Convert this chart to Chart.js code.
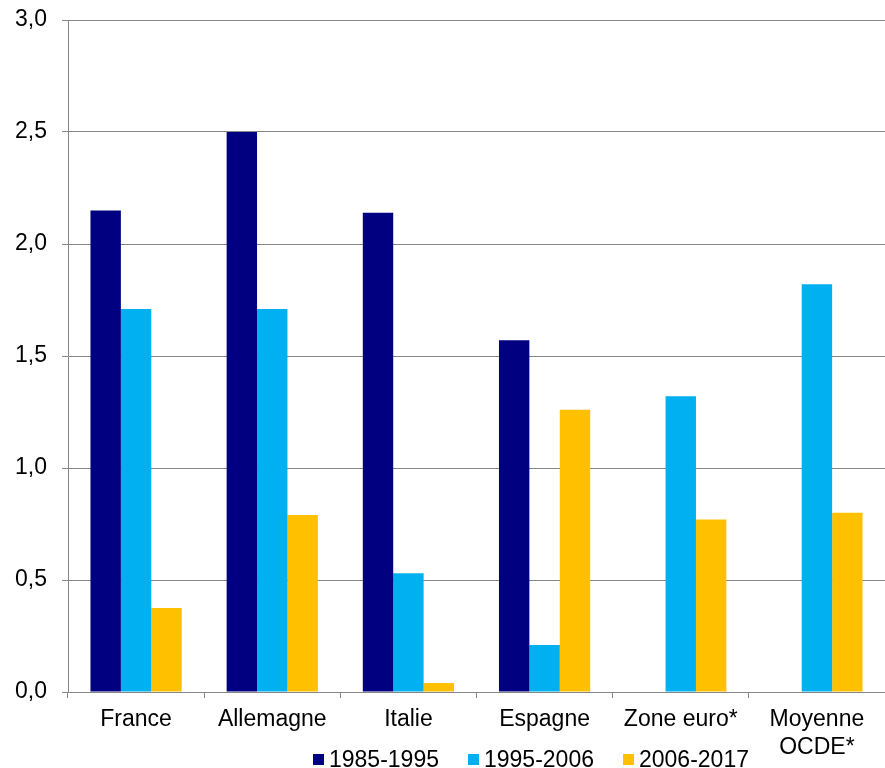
<!DOCTYPE html>
<html>
<head>
<meta charset="utf-8">
<script src="https://cdn.jsdelivr.net/npm/chart.js@4"></script>
<style>
  html, body { margin: 0; padding: 0; background: #fff; }
  #wrap { position: relative; width: 885px; height: 768px; }
  #legend {
    position: absolute; left: 313px; top: 746px;
    display: flex; align-items: center;
    font-family: "Liberation Sans", Arial, sans-serif; font-size: 23px; color: #000;
    line-height: 26px;
  }
  #legend .item { display: flex; align-items: center; margin-right: 29px; }
  #legend .box { width: 11px; height: 11px; margin-right: 5px; }
</style>
</head>
<body>
<div id="wrap">
  <canvas id="chart"></canvas>
  <div id="legend"></div>
</div>
<script>
const categories = ['France', 'Allemagne', 'Italie', 'Espagne', 'Zone euro*', ['Moyenne', 'OCDE*']];
const seriesNames = ['1985-1995', '1995-2006', '2006-2017'];
const values8595 = [2.15, 2.50, 2.14, 1.57, null, null];
const values9506 = [1.71, 1.71, 0.53, 0.21, 1.32, 1.82];
const values0617 = [0.375, 0.79, 0.04, 1.26, 0.77, 0.80];
const seriesColors = ['#000080', '#00B0F0', '#FFC000'];

const gridColor = '#868686';
Chart.defaults.font.family = '"Liberation Sans", Arial, sans-serif';
Chart.defaults.font.size = 23;
Chart.defaults.color = '#000';

// legend built from the series arrays
const legendEl = document.getElementById('legend');
seriesNames.forEach((name, i) => {
    const item = document.createElement('div');
    item.className = 'item';
    const box = document.createElement('span');
    box.className = 'box';
    box.style.background = seriesColors[i];
    item.appendChild(box);
    item.appendChild(document.createTextNode(name));
    legendEl.appendChild(item);
});

const ctx = document.getElementById('chart').getContext('2d');
new Chart(ctx, {
    type: 'bar',
    data: {
        labels: categories,
        datasets: [values8595, values9506, values0617].map((vals, i) => ({
            label: seriesNames[i],
            data: vals,
            backgroundColor: seriesColors[i],
            borderWidth: 0
        }))
    },
    options: {
        responsive: true,
        maintainAspectRatio: false,
        animation: false,
        layout: { padding: 0 },
        datasets: { bar: { categoryPercentage: 0.67, barPercentage: 1 } },
        plugins: {
            tooltip: { enabled: false },
            legend: { display: false }
        },
        scales: {
            x: {
                grid: { drawOnChartArea: false, drawTicks: true, tickLength: 6, color: gridColor, offset: true },
                border: { color: gridColor, width: 1 },
                ticks: { padding: 8, maxRotation: 0, autoSkip: false, font: { lineHeight: 1.22 } },
                afterFit: (scale) => { scale.height = 76; }
            },
            y: {
                min: 0,
                max: 3,
                grid: { color: gridColor, tickLength: 6 },
                border: { color: gridColor, width: 1 },
                ticks: {
                    stepSize: 0.5,
                    padding: 15,
                    callback: (v) => v.toFixed(1).replace('.', ',')
                },
                afterFit: (scale) => {
                    scale.width = 68;
                    scale.paddingTop = 20;
                    scale.paddingBottom = 0;
                }
            }
        }
    }
});
</script>
</body>
</html>
